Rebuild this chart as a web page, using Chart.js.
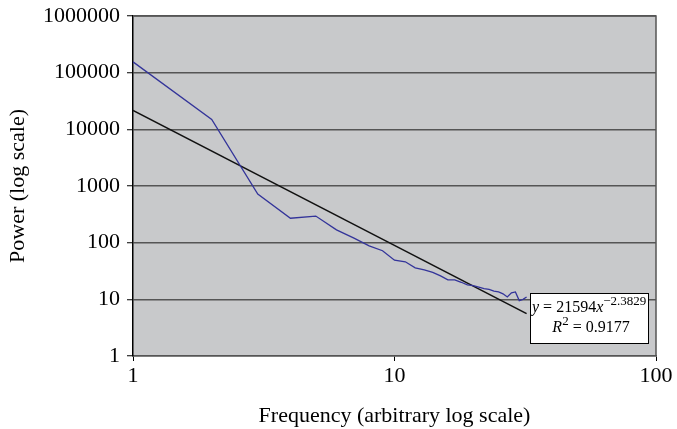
<!DOCTYPE html>
<html>
<head>
<meta charset="utf-8">
<script src="https://cdn.jsdelivr.net/npm/chart.js@4"></script>
<style>
    html, body { margin: 0; padding: 0; background: #ffffff; }
    #wrap { width: 677px; height: 429px; }
</style>
</head>
<body>
<div id="wrap"><canvas id="spectrum" width="677" height="429"></canvas></div>
<script>
// power spectrum
const frequency = [1, 2, 3, 4, 5, 6, 7, 8, 9, 10, 11, 12, 13, 14, 15, 16,
    17, 18, 19, 20, 21, 22, 23, 24, 25, 26, 27, 28, 29, 30, 31, 32];
const power = [155000, 15000, 720, 270, 295, 168, 120, 88, 72, 49, 46, 36, 33, 30, 26, 22,
    22, 20, 18, 17.5, 16.5, 15.5, 15, 14, 13.5, 12.5, 11, 13, 13.5, 9.5, 10, 11];

// power trendline endpoints (y = 21594x^-2.3829)
const trendX = [1, 32];
const trendY = [21594, 5.6];

const yTicks = [1, 10, 100, 1000, 10000, 100000, 1000000];
const xTicks = [1, 10, 100];
const equation = { coef: "21594", exp: "\u22122.3829", r2: "0.9177" };

const serif = "'Liberation Serif', 'DejaVu Serif', serif";

function pairs(xs, ys) {
    return xs.map(function (x, i) { return { x: x, y: ys[i] }; });
}

const plotFrame = {
    id: "plotFrame",
    beforeDraw: function (chart) {
        const a = chart.chartArea;
        const c = chart.ctx;
        c.save();
        c.fillStyle = "#c8c9cb";
        c.fillRect(a.left, a.top, a.right - a.left, a.bottom - a.top);
        c.restore();
    },
    afterDatasetsDraw: function (chart) {
        const a = chart.chartArea;
        const c = chart.ctx;
        c.save();
        c.strokeStyle = "#555555";
        c.lineWidth = 1.5;
        c.beginPath();
        c.moveTo(a.left, a.top);
        c.lineTo(a.right, a.top);
        c.lineTo(a.right, a.bottom);
        c.stroke();

        // equation box
        const bx = a.right - 126, by = a.bottom - 63, bw = 118, bh = 50;
        c.fillStyle = "#ffffff";
        c.fillRect(bx, by, bw, bh);
        c.strokeStyle = "#000000";
        c.lineWidth = 1;
        c.strokeRect(bx + 0.5, by + 0.5, bw, bh);

        c.fillStyle = "#000000";
        c.textBaseline = "alphabetic";
        c.textAlign = "left";
        let x = bx + 2;
        const y1 = by + 19;
        c.font = "italic 16px " + serif;
        c.fillText("y", x, y1);
        x += c.measureText("y").width;
        c.font = "16px " + serif;
        const mid = " = " + equation.coef;
        c.fillText(mid, x, y1);
        x += c.measureText(mid).width;
        c.font = "italic 16px " + serif;
        c.fillText("x", x, y1);
        x += c.measureText("x").width;
        c.font = "13px " + serif;
        c.fillText(equation.exp, x, y1 - 7);

        const y2 = by + 39;
        const parts = [["italic 16px ", "R"], ["13px ", "2"], ["16px ", " = " + equation.r2]];
        let total = 0;
        parts.forEach(function (p) { c.font = p[0] + serif; total += c.measureText(p[1]).width; });
        x = bx + bw / 2 - total / 2 + 2;
        parts.forEach(function (p, i) {
            c.font = p[0] + serif;
            c.fillText(p[1], x, i === 1 ? y2 - 7 : y2);
            x += c.measureText(p[1]).width;
        });
        c.restore();
    }
};

new Chart(document.getElementById("spectrum").getContext("2d"), {
    type: "scatter",
    data: {
        datasets: [
            {
                label: "Power",
                data: pairs(frequency, power),
                showLine: true,
                borderColor: "#33349a",
                borderWidth: 1.3,
                pointRadius: 0,
                tension: 0
            },
            {
                label: "Trend",
                data: pairs(trendX, trendY),
                showLine: true,
                borderColor: "#111111",
                borderWidth: 1.5,
                pointRadius: 0
            }
        ]
    },
    plugins: [plotFrame],
    options: {
        responsive: false,
        animation: false,
        layout: { padding: { top: 16, right: 21, left: 0, bottom: 0 } },
        plugins: {
            legend: { display: false },
            tooltip: { enabled: false }
        },
        scales: {
            x: {
                type: "logarithmic",
                min: 1,
                max: 100,
                afterBuildTicks: function (scale) {
                    scale.ticks = xTicks.map(function (v) { return { value: v }; });
                },
                afterFit: function (scale) {
                    scale.height = 73;
                    scale.paddingLeft = 0;
                    scale.paddingRight = 0;
                },
                ticks: {
                    color: "#000000",
                    font: { family: serif, size: 22 },
                    padding: 2,
                    maxRotation: 0,
                    autoSkip: false,
                    callback: function (v) { return String(v); }
                },
                grid: {
                    drawOnChartArea: false,
                    drawTicks: true,
                    tickLength: 5,
                    color: "#000000",
                    lineWidth: 1
                },
                border: { color: "#555555", width: 1.5 },
                title: {
                    display: true,
                    text: "Frequency (arbitrary log scale)",
                    color: "#000000",
                    font: { family: serif, size: 22 },
                    padding: { top: 2, bottom: 0 }
                }
            },
            y: {
                type: "logarithmic",
                min: 1,
                max: 1000000,
                afterBuildTicks: function (scale) {
                    scale.ticks = yTicks.map(function (v) { return { value: v }; });
                },
                afterFit: function (scale) {
                    scale.width = 133;
                    scale.paddingTop = 0;
                    scale.paddingBottom = 0;
                },
                ticks: {
                    color: "#000000",
                    font: { family: serif, size: 22 },
                    padding: 7,
                    autoSkip: false,
                    callback: function (v) { return String(v); }
                },
                grid: {
                    color: "#555555",
                    lineWidth: 1.5,
                    tickLength: 6,
                    tickColor: "#000000",
                    tickWidth: 1
                },
                border: { color: "#000000", width: 1.5 },
                title: {
                    display: true,
                    text: "Power (log scale)",
                    color: "#000000",
                    font: { family: serif, size: 22 },
                    padding: { top: 5, bottom: 0 }
                }
            }
        }
    }
});
</script>
</body>
</html>
